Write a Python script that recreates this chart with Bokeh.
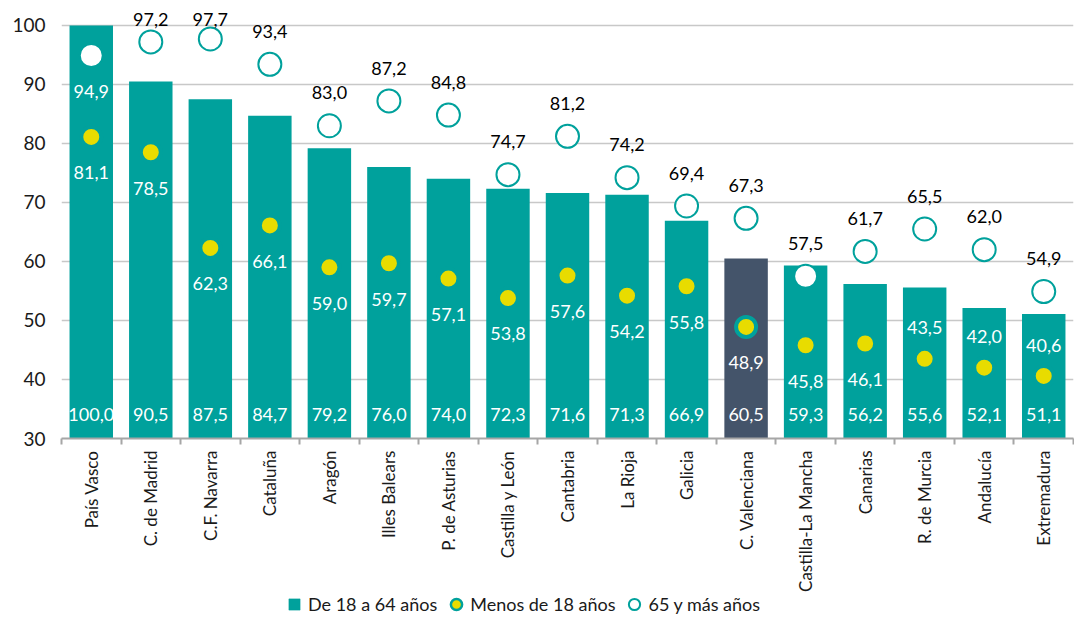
import math
from bokeh.plotting import figure
from bokeh.layouts import column
from bokeh.models import (ColumnDataSource, FixedTicker, Legend, LegendItem, Range1d)
from bokeh.core.properties import value
from bokeh.embed import file_html
from bokeh.resources import INLINE

categories = ["País Vasco", "C. de Madrid", "C.F. Navarra", "Cataluña", "Aragón",
              "Illes Balears", "P. de Asturias", "Castilla y León", "Cantabria",
              "La Rioja", "Galicia", "C. Valenciana", "Castilla-La Mancha",
              "Canarias", "R. de Murcia", "Andalucía", "Extremadura"]
adults = [100.0, 90.5, 87.5, 84.7, 79.2, 76.0, 74.0, 72.3, 71.6, 71.3, 66.9,
          60.5, 59.3, 56.2, 55.6, 52.1, 51.1]
young = [81.1, 78.5, 62.3, 66.1, 59.0, 59.7, 57.1, 53.8, 57.6, 54.2, 55.8,
         48.9, 45.8, 46.1, 43.5, 42.0, 40.6]
old = [94.9, 97.2, 97.7, 93.4, 83.0, 87.2, 84.8, 74.7, 81.2, 74.2, 69.4,
       67.3, 57.5, 61.7, 65.5, 62.0, 54.9]
series_names = ["De 18 a 64 años", "Menos de 18 años", "65 y más años"]
highlight = "C. Valenciana"
y_ticks = [30, 40, 50, 60, 70, 80, 90, 100]

TEAL = "#00A19C"
DARK = "#44546A"
YELLOW = "#E8DC00"
FONT = "Lato"

def fmt(v):
    return f"{v:.1f}".replace(".", ",")

n = len(categories)
xs = list(range(1, n + 1))

W = 1074
H = 594
LH = 20
FH = 440            # frame height (frame top at figure top)
TOP100 = 25         # pixel row of the 100 gridline
PX = (FH - TOP100) / 70.0
y_lo = 30
y_hi = 30 + FH / PX

p = figure(width=W, height=H, output_backend="svg", toolbar_location=None,
           x_range=Range1d(0.5, n + 0.5), y_range=Range1d(y_lo, y_hi),
           min_border_top=0, min_border_left=61, min_border_right=1,
           min_border_bottom=H - FH)
p.outline_line_color = None
p.background_fill_color = "white"
p.border_fill_color = "white"

LAB_SIZE = "18px"

# bars
bar_colors = [DARK if c == highlight else TEAL for c in categories]
bar_src = ColumnDataSource(dict(x=xs, top=adults, color=bar_colors,
                                lab=[fmt(v) for v in adults],
                                ly=[y_lo + 24 / PX] * n))
p.vbar(x="x", top="top", bottom=y_lo, width=0.73, fill_color="color",
       line_color=None, source=bar_src)
p.text(x="x", y="ly", text="lab", source=bar_src, text_color="white",
       text_font=value(FONT), text_font_size=LAB_SIZE, text_align="center",
       text_baseline="middle")

# 65+ circles
old_ly = []
old_col = []
for o, a in zip(old, adults):
    if o < a and o + 33 / PX > 100:
        old_ly.append(o - 36 / PX)
        old_col.append("white")
    else:
        old_ly.append(min(o + 33 / PX, 100 + 6 / PX))
        old_col.append("black")
old_src = ColumnDataSource(dict(x=xs, y=old, lab=[fmt(v) for v in old],
                                ly=old_ly, col=old_col))
p.scatter(x="x", y="y", size=23, marker="circle", fill_color="white",
          line_color=TEAL, line_width=2, source=old_src)
p.text(x="x", y="ly", text="lab", source=old_src, text_color="col",
       text_font=value(FONT), text_font_size=LAB_SIZE, text_align="center",
       text_baseline="middle")

# <18 dots
young_ly = []
for v in young:
    below = v - 36 / PX
    if below - y_lo >= 52 / PX:
        young_ly.append(below)
    else:
        young_ly.append(v + 31 / PX)
young_src = ColumnDataSource(dict(x=xs, y=young, lab=[fmt(v) for v in young],
                                  ly=young_ly))
p.scatter(x="x", y="y", size=20, marker="circle", fill_color=YELLOW,
          line_color=TEAL, line_width=4, source=young_src)
p.text(x="x", y="ly", text="lab", source=young_src, text_color="white",
       text_font=value(FONT), text_font_size=LAB_SIZE, text_align="center",
       text_baseline="middle")

# axes
p.yaxis.ticker = FixedTicker(ticks=y_ticks)
p.yaxis.axis_line_color = None
p.yaxis.major_tick_line_color = None
p.yaxis.major_tick_out = 0
p.yaxis.minor_tick_line_color = None
p.yaxis.major_label_text_font = FONT
p.yaxis.major_label_text_font_size = "19px"
p.yaxis.major_label_text_color = "#1a1a1a"
p.yaxis.major_label_standoff = 16

p.ygrid.ticker = FixedTicker(ticks=y_ticks)
p.ygrid.grid_line_color = "#C8C8C8"
p.ygrid.grid_line_width = 1.5
p.xgrid.grid_line_color = None

p.xaxis.ticker = FixedTicker(ticks=xs, minor_ticks=[x - 0.5 for x in xs] + [n + 0.5])
p.xaxis.major_label_overrides = {x: c for x, c in zip(xs, categories)}
p.xaxis.major_label_orientation = math.pi / 2
p.xaxis.major_tick_line_color = None
p.xaxis.major_tick_out = 6
p.xaxis.major_tick_in = 0
p.xaxis.minor_tick_line_color = "#A6A6A6"
p.xaxis.minor_tick_line_width = 2
p.xaxis.minor_tick_out = 6
p.xaxis.minor_tick_in = 0
p.xaxis.axis_line_color = "#A6A6A6"
p.xaxis.axis_line_width = 2
p.xaxis.major_label_text_font = FONT
p.xaxis.major_label_text_font_size = "17px"
p.xaxis.major_label_text_color = "#1a1a1a"
p.xaxis.major_label_standoff = 6

# legend figure (legend-only renderers hold no visible data)
lg = figure(width=W, height=LH, output_backend="svg", toolbar_location=None,
            x_range=Range1d(0, 1), y_range=Range1d(0, 1),
            x_axis_type=None, y_axis_type=None, min_border=0)
lg.outline_line_color = None
lg.xgrid.grid_line_color = None
lg.ygrid.grid_line_color = None
nan = float("nan")
def dummy():
    return ColumnDataSource(dict(x=[nan], y=[nan]))
r_bar = lg.scatter(x="x", y="y", source=dummy(), marker="square",
                   fill_color=TEAL, line_color=TEAL, line_width=0.5)
r_young = lg.scatter(x="x", y="y", source=dummy(), marker="circle",
                     fill_color=YELLOW, line_color=TEAL, line_width=2.5)
r_old = lg.scatter(x="x", y="y", source=dummy(), marker="circle",
                   fill_color="white", line_color=TEAL, line_width=2)
GB = 28
legend = Legend(items=[
    LegendItem(label=series_names[0], renderers=[r_bar]),
    LegendItem(label=series_names[1], renderers=[r_young]),
    LegendItem(label=series_names[2], renderers=[r_old]),
], orientation="horizontal", location=(219, -(GB - LH) // 2), border_line_color=None,
    background_fill_alpha=0, padding=0, margin=0, spacing=5,
    glyph_width=GB, glyph_height=GB, label_standoff=0,
    label_text_font=FONT, label_text_font_size="18px", label_text_color="#1a1a1a",
    label_height=GB)
lg.add_layout(legend, "center")

layout = column(p, lg, spacing=0)
open("out.html", "w").write(file_html(layout, INLINE))
